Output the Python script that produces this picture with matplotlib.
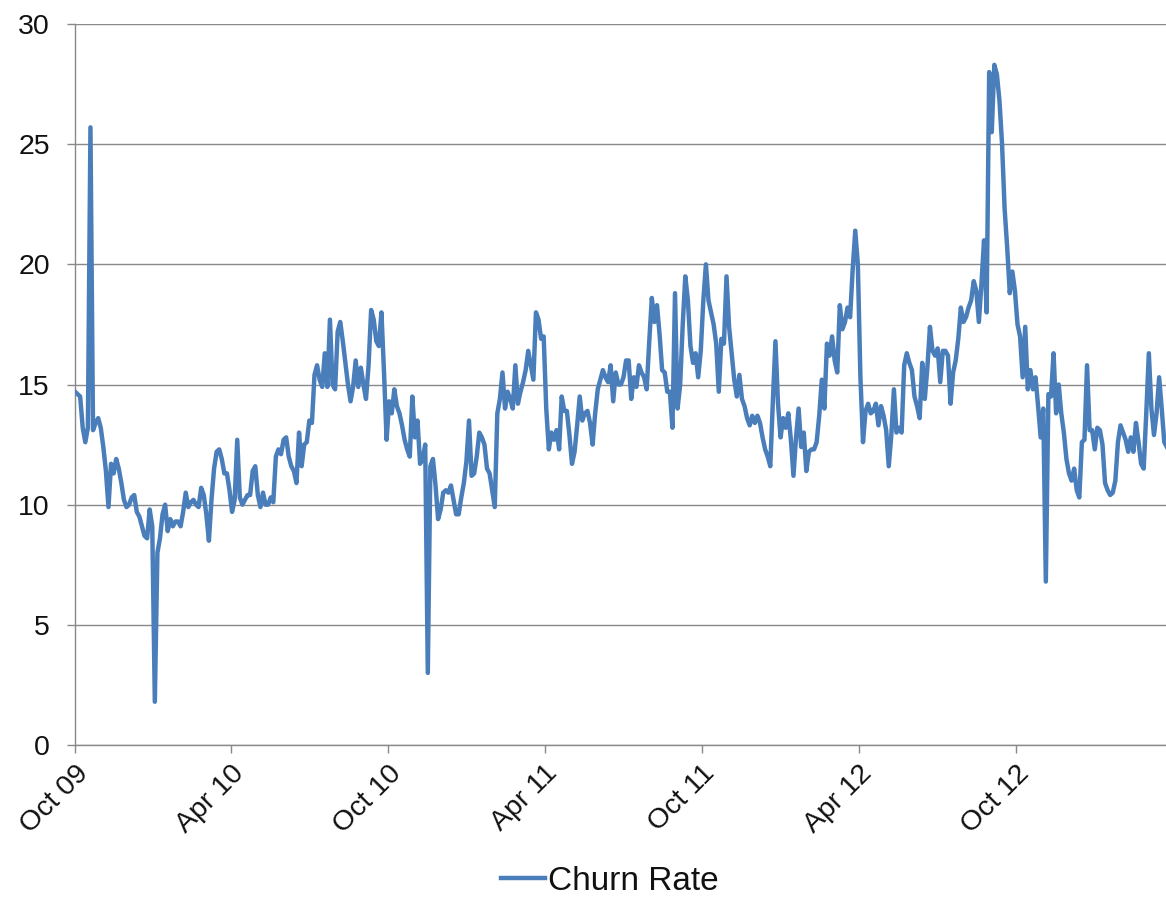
import matplotlib
matplotlib.use("Agg")
import matplotlib.pyplot as plt
import pandas as pd

plt.rcParams['font.family'] = ['Liberation Sans', 'DejaVu Sans']

# Churn rate, sampled every 3 days from 1 Oct 2009
start_date = "2009-10-01"
step = "3D"
churn_rate = [
    14.7, 14.6, 14.5, 13.2, 12.6, 13.2, 25.7, 13.1, 13.4, 13.6,
    13.2, 12.4, 11.4, 9.9, 11.7, 11.3, 11.9, 11.5, 10.9, 10.2,
    9.9, 10.0, 10.3, 10.4, 9.7, 9.5, 9.1, 8.7, 8.6, 9.8,
    9.1, 1.8, 8.0, 8.6, 9.6, 10.0, 8.9, 9.4, 9.1, 9.3,
    9.3, 9.1, 9.7, 10.5, 9.9, 10.1, 10.2, 10.0, 9.9, 10.7,
    10.4, 9.6, 8.5, 10.2, 11.5, 12.2, 12.3, 11.9, 11.3, 11.3,
    10.6, 9.7, 10.2, 12.7, 10.3, 10.0, 10.2, 10.4, 10.4, 11.4,
    11.6, 10.4, 9.9, 10.5, 10.0, 10.0, 10.3, 10.1, 12.0, 12.3,
    12.1, 12.7, 12.8, 12.0, 11.6, 11.4, 10.9, 13.0, 11.6, 12.5,
    12.6, 13.5, 13.4, 15.4, 15.8, 15.2, 14.9, 16.3, 14.9, 17.7,
    15.0, 14.8, 17.2, 17.6, 16.8, 15.9, 15.0, 14.3, 14.9, 16.0,
    14.9, 15.7, 15.0, 14.4, 15.8, 18.1, 17.7, 16.8, 16.6, 18.0,
    15.5, 12.7, 14.3, 13.8, 14.8, 14.1, 13.8, 13.3, 12.7, 12.3,
    12.0, 14.5, 12.8, 13.5, 11.7, 11.9, 12.5, 3.0, 11.6, 11.9,
    10.8, 9.4, 9.8, 10.5, 10.6, 10.5, 10.8, 10.2, 9.6, 9.6,
    10.3, 10.9, 11.8, 13.5, 11.2, 11.3, 12.0, 13.0, 12.8, 12.5,
    11.5, 11.3, 10.6, 9.9, 13.8, 14.4, 15.5, 14.0, 14.7, 14.4,
    14.0, 15.8, 14.2, 14.7, 15.1, 15.6, 16.4, 15.8, 15.2, 18.0,
    17.7, 16.9, 17.0, 14.0, 12.3, 13.0, 12.7, 13.1, 12.3, 14.5,
    13.9, 13.9, 12.9, 11.7, 12.2, 13.3, 14.5, 13.5, 13.8, 13.9,
    13.4, 12.5, 13.8, 14.8, 15.2, 15.6, 15.3, 15.1, 15.8, 14.3,
    15.5, 15.0, 15.0, 15.3, 16.0, 16.0, 14.4, 15.3, 14.9, 15.8,
    15.5, 15.3, 14.8, 16.8, 18.6, 17.6, 18.3, 17.1, 15.6, 15.5,
    14.7, 14.7, 13.2, 18.8, 14.0, 15.0, 17.5, 19.5, 18.5, 16.6,
    15.9, 16.3, 15.3, 16.4, 18.5, 20.0, 18.5, 18.0, 17.5, 16.7,
    14.7, 16.9, 16.7, 19.5, 17.4, 16.3, 15.2, 14.5, 15.4, 14.4,
    14.1, 13.6, 13.3, 13.7, 13.4, 13.7, 13.4, 12.8, 12.3, 12.0,
    11.6, 14.3, 16.8, 14.2, 12.8, 13.6, 13.2, 13.8, 12.7, 11.2,
    12.8, 14.0, 12.4, 13.0, 11.4, 12.2, 12.3, 12.3, 12.6, 13.7,
    15.2, 14.0, 16.7, 16.2, 17.0, 16.0, 15.5, 18.3, 17.3, 17.6,
    18.2, 17.8, 19.8, 21.4, 20.0, 15.3, 12.6, 13.9, 14.2, 13.8,
    13.9, 14.2, 13.3, 14.1, 13.7, 13.1, 11.6, 12.9, 14.8, 13.0,
    13.2, 13.0, 15.8, 16.3, 15.9, 15.6, 14.5, 14.1, 13.6, 15.9,
    14.4, 15.7, 17.4, 16.4, 16.2, 16.5, 15.1, 16.4, 16.4, 16.2,
    14.2, 15.5, 16.0, 16.9, 18.2, 17.6, 17.8, 18.2, 18.5, 19.3,
    18.9, 17.6, 19.2, 21.0, 18.0, 28.0, 25.5, 28.3, 27.9, 26.8,
    25.0, 22.3, 20.7, 18.8, 19.7, 18.9, 17.5, 17.0, 15.3, 17.4,
    14.8, 15.6, 14.8, 15.3, 14.1, 12.8, 14.0, 6.8, 14.6, 14.5,
    16.3, 13.8, 15.0, 13.8, 13.0, 11.9, 11.3, 11.0, 11.5, 10.6,
    10.3, 12.6, 12.7, 15.8, 13.1, 13.1, 12.3, 13.2, 13.1, 12.5,
    10.9, 10.6, 10.4, 10.5, 11.0, 12.6, 13.3, 13.0, 12.7, 12.2,
    12.8, 12.2, 13.4, 12.6, 11.7, 11.5, 13.8, 16.3, 14.0, 12.9,
    13.8, 15.3, 14.0, 12.6, 12.4,
]
series_label = "Churn Rate"

tick_dates = ["2009-10-01", "2010-04-01", "2010-10-01", "2011-04-01",
              "2011-10-01", "2012-04-01", "2012-10-01"]
tick_labels = ["Oct 09", "Apr 10", "Oct 10", "Apr 11", "Oct 11", "Apr 12", "Oct 12"]
y_ticks = [0, 5, 10, 15, 20, 25, 30]

dates = pd.date_range(start_date, periods=len(churn_rate), freq=step)

W, H = 1166, 897
fig = plt.figure(figsize=(W / 100, H / 100), dpi=100)
ax = fig.add_axes([75 / W, 1 - 745 / H, 1 - 75 / W, (745 - 24) / H])

line_color = "#4A7EBB"
grid_color = "#898989"

ax.plot(dates, churn_rate, color=line_color, lw=3.2, solid_joinstyle="round",
        label=series_label, zorder=3)

ax.set_ylim(0, 30)
ax.set_yticks(y_ticks)
ax.set_xlim(pd.Timestamp(start_date), pd.Timestamp(start_date) + pd.Timedelta(days=1271))
ax.set_xticks(pd.to_datetime(tick_dates))
ax.set_xticklabels(tick_labels, rotation=45, ha="right", va="top",
                   rotation_mode="anchor")

ax.grid(axis="y", color=grid_color, lw=1.0, zorder=0)
ax.set_axisbelow(True)
for side in ("top", "right"):
    ax.spines[side].set_visible(False)
for side in ("left", "bottom"):
    ax.spines[side].set_color(grid_color)
    ax.spines[side].set_linewidth(1.0)

ax.tick_params(axis="y", length=6, width=1.0, color=grid_color, pad=12,
               labelsize=20.5, labelcolor="#111111")
ax.tick_params(axis="x", length=6, width=1.0, color=grid_color, pad=5,
               labelsize=20.5, labelcolor="#111111")

fig.legend(loc="center", bbox_to_anchor=(610 / W, 1 - 881 / H), frameon=False,
           fontsize=24, handlelength=1.3, handletextpad=0.1,
           labelcolor="#111111")

fig.savefig("out.png", dpi=100)
